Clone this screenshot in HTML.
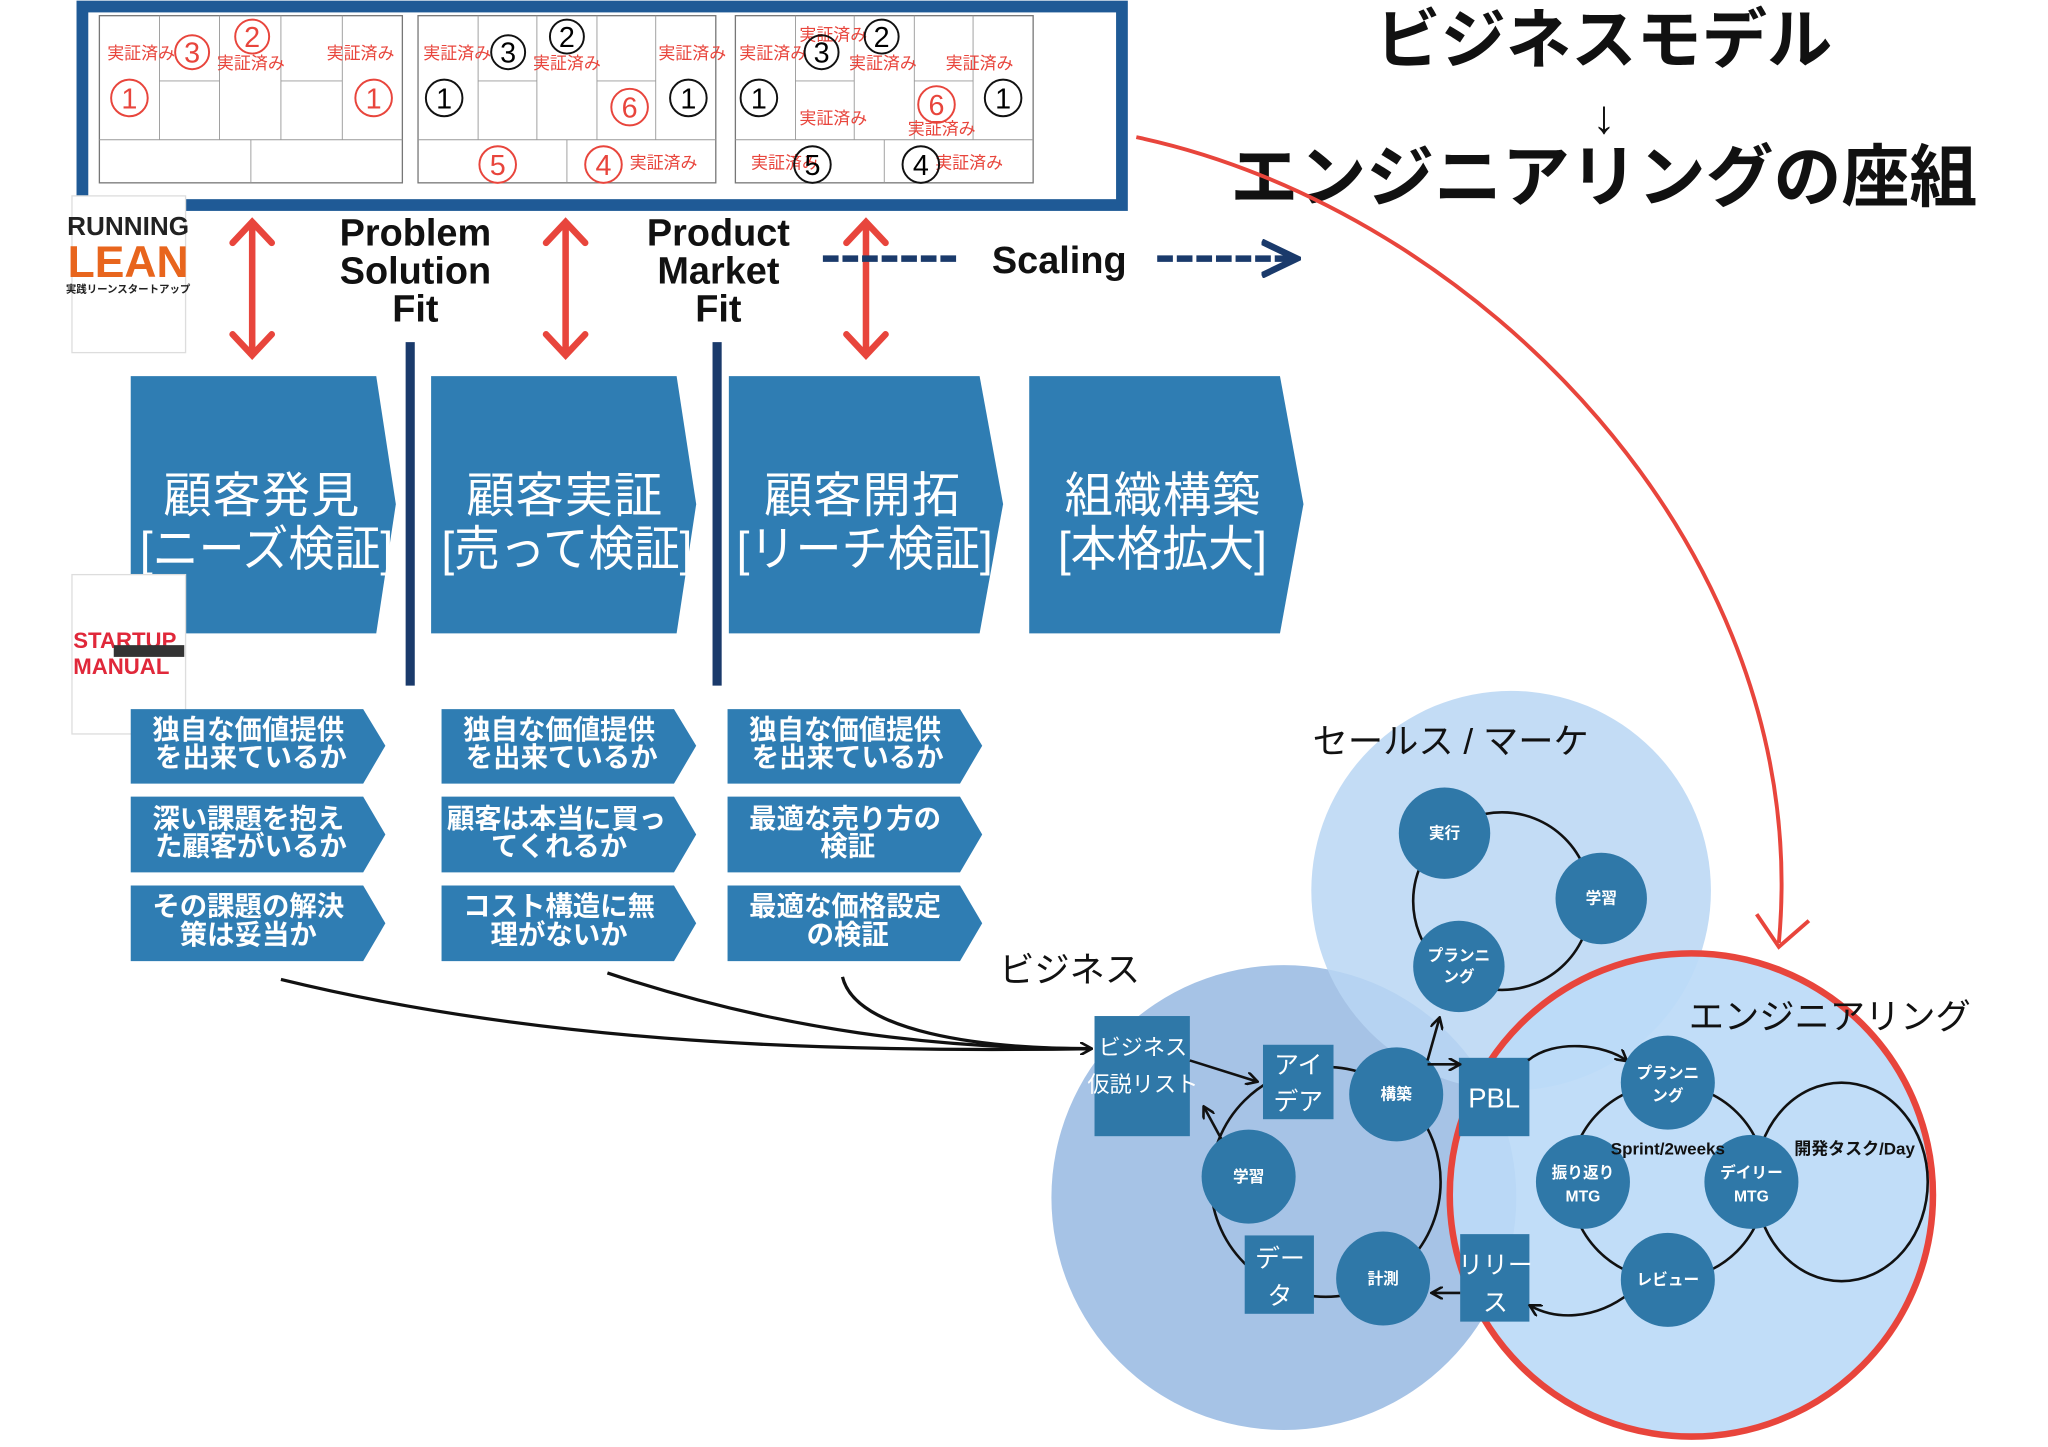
<!DOCTYPE html>
<html><head><meta charset="utf-8"><style>
html,body{margin:0;padding:0;background:#fff;width:2048px;height:1447px;overflow:hidden}
svg{display:block}
text{font-family:"Liberation Sans","Noto Sans CJK JP",sans-serif}
.w{fill:#fff;font-weight:bold}
.r{fill:#e8453c;font-size:13px}
.cr{fill:none;stroke:#e8453c;stroke-width:1.5}
.cb{fill:none;stroke:#111;stroke-width:1.5}
.n{fill:#2f78a8}
.lk{fill:none;stroke:#111;stroke-width:2}
</style></head><body>
<svg width="2048" height="1447" viewBox="0 0 1568 1108" xmlns="http://www.w3.org/2000/svg">
<defs>
<marker id="ah" markerWidth="10" markerHeight="10" refX="8" refY="5" orient="auto" markerUnits="userSpaceOnUse"><path d="M0,0 L9,5 L0,10" fill="none" stroke="#111" stroke-width="2"/></marker>
<marker id="ahn" markerWidth="30" markerHeight="30" refX="26" refY="15" orient="auto" markerUnits="userSpaceOnUse"><path d="M0,2 L27,15 L0,28" fill="none" stroke="#1a3a6b" stroke-width="5"/></marker>
</defs>
<rect x="60" y="3" width="802" height="156" fill="#fff"/>
<g fill="#fff" stroke="#777" stroke-width="1">
<rect x="76" y="12" width="232" height="128"/><rect x="320" y="12" width="228" height="128"/><rect x="563" y="12" width="228" height="128"/>
</g>
<g stroke="#999" stroke-width="0.7">
<path d="M122,12V107M168,12V107M215,12V107M262,12V107M122,62H168M215,62H262M76,107H308M192,107V140"/>
<path d="M366,12V107M411,12V107M457,12V107M502,12V107M366,62H411M457,62H502M320,107H548M434,107V140"/>
<path d="M609,12V107M654,12V107M700,12V107M745,12V107M609,62H654M700,62H745M563,107H791M677,107V140"/>
</g>
<rect x="63" y="5" width="796" height="152" fill="none" stroke="#1f5a96" stroke-width="9"/>
<text class="r" x="82" y="45">実証済み</text><text class="r" x="166" y="53">実証済み</text><text class="r" x="250" y="45">実証済み</text>
<circle class="cr" cx="147" cy="40" r="13"/><text x="147" y="48" text-anchor="middle" fill="#e8453c" font-size="22">3</text>
<circle class="cr" cx="193" cy="28" r="13"/><text x="193" y="36" text-anchor="middle" fill="#e8453c" font-size="22">2</text>
<circle class="cr" cx="99" cy="75" r="14"/><text x="99" y="83" text-anchor="middle" fill="#e8453c" font-size="22">1</text>
<circle class="cr" cx="286" cy="75" r="14"/><text x="286" y="83" text-anchor="middle" fill="#e8453c" font-size="22">1</text>
<text class="r" x="324" y="45">実証済み</text><text class="r" x="408" y="53">実証済み</text><text class="r" x="504" y="45">実証済み</text><text class="r" x="482" y="129">実証済み</text>
<circle class="cb" cx="389" cy="40" r="13"/><text x="389" y="48" text-anchor="middle" font-size="22">3</text>
<circle class="cb" cx="434" cy="28" r="13"/><text x="434" y="36" text-anchor="middle" font-size="22">2</text>
<circle class="cb" cx="340" cy="75" r="14"/><text x="340" y="83" text-anchor="middle" font-size="22">1</text>
<circle class="cb" cx="527" cy="75" r="14"/><text x="527" y="83" text-anchor="middle" font-size="22">1</text>
<circle class="cr" cx="482" cy="82" r="14"/><text x="482" y="90" text-anchor="middle" fill="#e8453c" font-size="22">6</text>
<circle class="cr" cx="381" cy="126" r="14"/><text x="381" y="134" text-anchor="middle" fill="#e8453c" font-size="22">5</text>
<circle class="cr" cx="462" cy="126" r="14"/><text x="462" y="134" text-anchor="middle" fill="#e8453c" font-size="22">4</text>
<text class="r" x="566" y="45">実証済み</text><text class="r" x="612" y="31">実証済み</text><text class="r" x="650" y="53">実証済み</text><text class="r" x="724" y="53">実証済み</text>
<text class="r" x="612" y="95">実証済み</text><text class="r" x="695" y="103">実証済み</text><text class="r" x="575" y="129">実証済み</text><text class="r" x="716" y="129">実証済み</text>
<circle class="cb" cx="629" cy="40" r="13"/><text x="629" y="48" text-anchor="middle" font-size="22">3</text>
<circle class="cb" cx="675" cy="28" r="13"/><text x="675" y="36" text-anchor="middle" font-size="22">2</text>
<circle class="cb" cx="581" cy="75" r="14"/><text x="581" y="83" text-anchor="middle" font-size="22">1</text>
<circle class="cb" cx="768" cy="75" r="14"/><text x="768" y="83" text-anchor="middle" font-size="22">1</text>
<circle class="cr" cx="717" cy="80" r="14"/><text x="717" y="88" text-anchor="middle" fill="#e8453c" font-size="22">6</text>
<circle class="cb" cx="622" cy="126" r="14"/><text x="622" y="134" text-anchor="middle" font-size="22">5</text>
<circle class="cb" cx="705" cy="126" r="14"/><text x="705" y="134" text-anchor="middle" font-size="22">4</text>
<text x="1228" y="48" text-anchor="middle" font-size="50" font-weight="bold" fill="#111">ビジネスモデル</text>
<text x="1228" y="102" text-anchor="middle" font-size="36" fill="#111">↓</text>
<text x="1228" y="154" text-anchor="middle" font-size="52" font-weight="bold" fill="#111">エンジニアリングの座組</text>
<rect x="55" y="150" width="87" height="120" fill="#fff" stroke="#ddd"/>
<text x="98" y="180" text-anchor="middle" font-size="20" font-weight="bold" fill="#222">RUNNING</text>
<text x="98" y="212" text-anchor="middle" font-size="34" font-weight="bold" fill="#e8651d">LEAN</text>
<text x="98" y="224" text-anchor="middle" font-size="8" font-weight="bold" fill="#222">実践リーンスタートアップ</text>
<g stroke="#e8453c" stroke-width="5" fill="none" stroke-linecap="round">
<path d="M193,170V272M178,186L193,170L208,186M178,256L193,272L208,256"/>
<path d="M433,170V272M418,186L433,170L448,186M418,256L433,272L448,256"/>
<path d="M663,170V272M648,186L663,170L678,186M648,256L663,272L678,256"/>
</g>
<g font-size="29" font-weight="bold" fill="#111" text-anchor="middle">
<text x="318" y="188">Problem</text><text x="318" y="217">Solution</text><text x="318" y="246">Fit</text>
<text x="550" y="188">Product</text><text x="550" y="217">Market</text><text x="550" y="246">Fit</text>
<text x="811" y="209">Scaling</text>
</g>
<line x1="630" y1="198" x2="735" y2="198" stroke="#1a3a6b" stroke-width="5" stroke-dasharray="12 3"/>
<line x1="886" y1="198" x2="992" y2="198" stroke="#1a3a6b" stroke-width="5" stroke-dasharray="12 3" marker-end="url(#ahn)"/>
<line x1="314" y1="262" x2="314" y2="525" stroke="#1a3a6b" stroke-width="7"/>
<line x1="549" y1="262" x2="549" y2="525" stroke="#1a3a6b" stroke-width="7"/>
<g fill="#2f7db3">
<path d="M100,288H288L303,386L288,485H100Z"/>
<path d="M330,288H518L533,386L518,485H330Z"/>
<path d="M558,288H750L768,386L750,485H558Z"/>
<path d="M788,288H980L998,386L980,485H788Z"/>
</g>
<g fill="#fff" font-size="37" text-anchor="middle">
<text x="200" y="392" textLength="150">顧客発見</text><text x="204" y="433" textLength="194" lengthAdjust="spacingAndGlyphs">[ニーズ検証]</text>
<text x="432" y="392" textLength="150">顧客実証</text><text x="434" y="433" textLength="192" lengthAdjust="spacingAndGlyphs">[売って検証]</text>
<text x="660" y="392" textLength="150">顧客開拓</text><text x="662" y="433" textLength="196" lengthAdjust="spacingAndGlyphs">[リーチ検証]</text>
<text x="890" y="392" textLength="150">組織構築</text><text x="890" y="433" textLength="160" lengthAdjust="spacingAndGlyphs">[本格拡大]</text>
</g>
<rect x="55" y="440" width="87" height="122" fill="#fff" stroke="#ddd"/>
<text x="56" y="496" font-size="17" font-weight="bold" fill="#e0283a">STARTUP</text>
<text x="56" y="516" font-size="17" font-weight="bold" fill="#e0283a">MANUAL</text>
<rect x="87" y="494" width="54" height="9" fill="#333"/>
<g fill="#2f7db3">
<path d="M100,543H278L295,571L278,600H100Z"/><path d="M100,610H278L295,639L278,668H100Z"/><path d="M100,678H278L295,707L278,736H100Z"/>
<path d="M338,543H516L533,571L516,600H338Z"/><path d="M338,610H516L533,639L516,668H338Z"/><path d="M338,678H516L533,707L516,736H338Z"/>
<path d="M557,543H735L752,571L735,600H557Z"/><path d="M557,610H735L752,639L735,668H557Z"/><path d="M557,678H735L752,707L735,736H557Z"/>
</g>
<g class="w" font-size="21" text-anchor="middle">
<text x="190" y="566">独自な価値提供</text><text x="192" y="587">を出来ているか</text>
<text x="190" y="634">深い課題を抱え</text><text x="192" y="655">た顧客がいるか</text>
<text x="190" y="701">その課題の解決</text><text x="190" y="723">策は妥当か</text>
<text x="428" y="566">独自な価値提供</text><text x="430" y="587">を出来ているか</text>
<text x="426" y="634">顧客は本当に買っ</text><text x="428" y="655">てくれるか</text>
<text x="428" y="701">コスト構造に無</text><text x="428" y="723">理がないか</text>
<text x="647" y="566">独自な価値提供</text><text x="649" y="587">を出来ているか</text>
<text x="647" y="634">最適な売り方の</text><text x="649" y="655">検証</text>
<text x="647" y="701">最適な価格設定</text><text x="649" y="723">の検証</text>
</g>
<circle cx="983" cy="917" r="178" fill="#a6c3e6"/>
<circle cx="1157" cy="682" r="153" fill="#b8d6f3" opacity="0.85"/>
<circle cx="1295" cy="915" r="185" fill="#bcdaf7" opacity="0.92"/>
<circle cx="1295" cy="915" r="185" fill="none" stroke="#e8453c" stroke-width="5"/>
<g font-size="27" fill="#111">
<text x="1005" y="577">セールス / マーケ</text>
<text x="765" y="752">ビジネス</text>
<text x="1293" y="788">エンジニアリング</text>
</g>
<g fill="none" stroke="#111" stroke-width="2.5">
<path d="M215,750 C420,800 640,806 835,803"/>
<path d="M465,745 C600,790 720,803 835,803"/>
<path d="M645,748 C655,790 750,803 835,803" marker-end="url(#ah)"/>
</g>
<path d="M870,105 C1130,160 1390,420 1362,722" fill="none" stroke="#e8453c" stroke-width="3"/>
<path d="M1345,700 L1362,725 L1385,705" fill="none" stroke="#e8453c" stroke-width="3"/>
<circle cx="1150" cy="690" r="68" class="lk"/>
<circle class="n" cx="1106" cy="638" r="35"/><circle class="n" cx="1226" cy="688" r="35"/><circle class="n" cx="1117" cy="740" r="35"/>
<g class="w" font-size="12" text-anchor="middle">
<text x="1106" y="642">実行</text><text x="1226" y="692">学習</text><text x="1117" y="736">プランニ</text><text x="1117" y="752">ング</text>
</g>
<circle cx="1015" cy="905" r="88" class="lk"/>
<rect class="n" x="838" y="778" width="73" height="92"/>
<rect class="n" x="967" y="800" width="54" height="57"/>
<rect class="n" x="953" y="946" width="53" height="60"/>
<rect class="n" x="1117" y="810" width="54" height="60"/>
<rect class="n" x="1118" y="945" width="53" height="67"/>
<circle class="n" cx="1069" cy="838" r="36"/><circle class="n" cx="956" cy="901" r="36"/><circle class="n" cx="1059" cy="979" r="36"/>
<g fill="#fff" text-anchor="middle">
<text x="875" y="808" font-size="17">ビジネス</text><text x="875" y="836" font-size="17">仮説リスト</text>
<text x="994" y="822" font-size="19">アイ</text><text x="994" y="850" font-size="19">デア</text>
<text x="980" y="970" font-size="19">デー</text><text x="980" y="999" font-size="19">タ</text>
<text x="1144" y="848" font-size="21">PBL</text>
<text x="1145" y="975" font-size="19">リリー</text><text x="1145" y="1004" font-size="19">ス</text>
</g>
<g class="w" font-size="12" text-anchor="middle">
<text x="1069" y="842">構築</text><text x="956" y="905">学習</text><text x="1059" y="983">計測</text>
</g>
<g fill="none" stroke="#111" stroke-width="2">
<path d="M911,812 L962,828" marker-end="url(#ah)"/>
<path d="M935,872 L922,848" marker-end="url(#ah)"/>
<path d="M1093,812 L1102,780" marker-end="url(#ah)"/>
<path d="M1093,815 L1117,815" marker-end="url(#ah)"/>
<path d="M1118,990 L1097,990" marker-end="url(#ah)"/>
</g>
<circle cx="1277" cy="905" r="75" class="lk"/>
<ellipse cx="1410" cy="905" rx="66" ry="76" class="lk"/>
<path d="M1170,812 C1190,795 1230,800 1245,812" class="lk" marker-end="url(#ah)"/>
<path d="M1248,990 C1220,1012 1190,1010 1172,1000" class="lk" marker-end="url(#ah)"/>
<circle class="n" cx="1277" cy="829" r="36"/><circle class="n" cx="1212" cy="905" r="36"/><circle class="n" cx="1341" cy="905" r="36"/><circle class="n" cx="1277" cy="980" r="36"/>
<g class="w" font-size="12" text-anchor="middle">
<text x="1277" y="826">プランニ</text><text x="1277" y="843">ング</text>
<text x="1212" y="902">振り返り</text><text x="1212" y="920">MTG</text>
<text x="1341" y="902">デイリー</text><text x="1341" y="920">MTG</text>
<text x="1277" y="984">レビュー</text>
</g>
<g font-size="13" font-weight="bold" fill="#111" text-anchor="middle">
<text x="1277" y="884">Sprint/2weeks</text><text x="1420" y="884">開発タスク/Day</text>
</g>
</svg>
</body></html>
